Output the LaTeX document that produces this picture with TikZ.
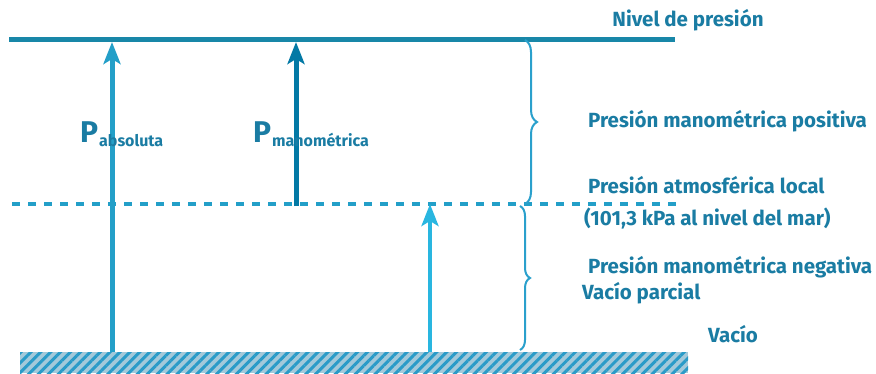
\documentclass[tikz,border=0pt]{standalone}
\usepackage{fontspec}
\setmainfont{Fira Sans}
\usetikzlibrary{arrows.meta, positioning, patterns.meta, decorations.pathreplacing}
\definecolor{txtblue}{HTML}{1A7CA3}
\definecolor{lineblue}{HTML}{1887A8}
\definecolor{absblue}{HTML}{239FC8}
\definecolor{manblue}{HTML}{0379A5}
\definecolor{vacblue}{HTML}{29B6E0}
\definecolor{braceblue}{HTML}{2AA0CC}
\definecolor{hatchbg}{HTML}{A3C9DA}
\definecolor{hatchfg}{HTML}{2A9BC8}
\tikzstyle{presline} = [line width=5pt, lineblue]
\tikzstyle{atmline} = [line width=4pt, absblue, dash pattern=on 8pt off 8pt]
\tikzstyle{parrow} = [line width=5pt, -{Stealth[length=22pt, width=17pt, inset=5pt]}]
\tikzstyle{bracket} = [line width=2pt, braceblue, decorate, decoration={brace, amplitude=12pt}]
\tikzstyle{txtlabel} = [inner sep=0pt, anchor=base west, text=txtblue, font=\fontsize{20.5}{23}\selectfont\bfseries]
\tikzstyle{plabel} = [inner sep=0pt, anchor=base west, text=txtblue, font=\fontsize{30}{32}\selectfont\bfseries]

\begin{document}
\begin{tikzpicture}[x=1pt, y=1pt]
\useasboundingbox (0,0) rectangle (876,373);
% levels
\coordinate (top west) at (9,333);
\coordinate (top east) at (675,333);
\coordinate (atm west) at (12,169);
\coordinate (atm east) at (680,169);
\draw [presline] (top west) -- (top east);
\draw [atmline] (atm west) -- (atm east);
% vacuum
\fill [hatchbg] (20,0) rectangle (688,21);
\fill [pattern={Lines[angle=45, distance=7pt, line width=3pt]}, pattern color=hatchfg] (20,0) rectangle (688,21);
% arrows
\coordinate (abs start) at (112,21);
\coordinate (abs end) at (112,331);
\coordinate (man start) at (296,167);
\coordinate (man end) at (296,331);
\coordinate (vac start) at (430,21);
\coordinate (vac end) at (430,169);
\draw [parrow, absblue] (abs start) -- (abs end);
\draw [parrow, manblue] (man start) -- (man end);
\draw [parrow, vacblue, line width=4pt] (vac start) -- (vac end);
% braces
\coordinate (b1 top) at (525,333);
\coordinate (b1 bottom) at (525,169);
\coordinate (b2 top) at (520,167);
\coordinate (b2 bottom) at (520,23);
\draw [bracket] (b1 top) -- (b1 bottom);
\draw [bracket, decoration={brace, amplitude=10pt}] (b2 top) -- (b2 bottom);
% texts
\node (nivel) [txtlabel, anchor=base] at (688,346) {Nivel de presión};
\node (positiva) [txtlabel] at (588,245) {Presión manométrica positiva};
\node (atm) [txtlabel] at (588,180) {Presión atmosférica local};
\node (mar) [txtlabel] at (584,148) {(101,3 kPa al nivel del mar)};
\node (negativa) [txtlabel] at (588,100) {Presión manométrica negativa};
\node (parcial) [txtlabel] at (582,74) {Vacío parcial};
\node (vacio) [txtlabel] at (708,31) {Vacío};
\node (pabs) [plabel] at (80,230) {P\kern1pt\raisebox{-3pt}{\fontsize{16}{18}\selectfont absoluta}};
\node (pman) [plabel] at (253,230) {P\kern1pt\raisebox{-3pt}{\fontsize{16}{18}\selectfont manométrica}};
\end{tikzpicture}
\end{document}
